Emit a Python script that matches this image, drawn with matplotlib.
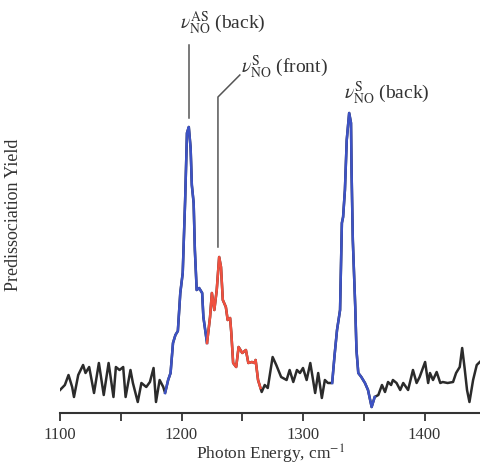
import matplotlib
matplotlib.use("Agg")
import matplotlib.pyplot as plt
import numpy as np

plt.rcParams["font.family"] = ["Liberation Serif", "DejaVu Serif"]
plt.rcParams["mathtext.fontset"] = "stix"

# 光子能量 (cm^-1) 與預解離產率 (任意單位)
energy = [1100, 1104, 1107, 1110, 1111.5, 1115, 1119, 1121, 1124, 1128, 1132, 1136,
          1140, 1144, 1146, 1149, 1152, 1154, 1158, 1160, 1164, 1167, 1171, 1174,
          1177, 1179, 1182, 1185, 1186.5, 1189, 1191, 1193, 1195, 1197, 1199, 1201,
          1203, 1204.5, 1206, 1207.5, 1208.5, 1210, 1211, 1212.5, 1214.5, 1217, 1218,
          1219.5, 1221, 1223.5, 1225, 1227, 1229, 1231, 1232.5, 1234, 1236.5, 1238,
          1240, 1241, 1242.5, 1245, 1247, 1250, 1253, 1255, 1258, 1260, 1261, 1263,
          1265, 1266, 1268.5, 1271, 1275, 1278, 1282, 1286.5, 1289, 1292, 1295,
          1297.5, 1300, 1303, 1306, 1310, 1312.5, 1315.5, 1318, 1320.5, 1324, 1326,
          1328, 1330.5, 1332, 1333, 1334.5, 1336, 1338, 1339.5, 1340, 1341, 1343,
          1344, 1345.5, 1348, 1351, 1353.5, 1356.5, 1359, 1362, 1365, 1367.5, 1370,
          1372.5, 1374, 1377, 1380, 1382.5, 1386.5, 1390.5, 1393.5, 1396, 1400.5,
          1403, 1404.5, 1407, 1410, 1413, 1415, 1419, 1423.5, 1426, 1429, 1431, 1433,
          1435, 1437, 1440, 1443, 1445.5]
yield_ = [23, 28, 38, 26, 16, 38, 48, 40, 46, 20, 50, 18,
          50, 16, 46, 43, 46, 16, 43, 30, 11, 30, 26, 31,
          45, 11, 33, 26, 20, 33, 40, 70, 78, 82, 120, 140,
          213, 280, 286, 265, 228, 210, 163, 123, 125, 120, 96,
          83, 70, 96, 120, 103, 123, 156, 146, 113, 106, 93,
          95, 80, 50, 46, 66, 60, 63, 50, 51, 50, 53, 33,
          25, 21, 28, 25, 56, 48, 36, 33, 43, 31, 43,
          40, 45, 33, 50, 20, 40, 15, 33, 30, 30, 58,
          83, 103, 190, 196, 223, 273, 300, 290, 240, 173, 106,
          63, 40, 36, 30, 23, 6, 16, 18, 28, 21, 31,
          28, 33, 30, 23, 30, 23, 43, 30, 36, 51,
          30, 40, 33, 41, 30, 31, 30, 31, 40, 46, 65, 45,
          23, 11, 33, 48, 51]

# 各段上色的能量區間
blue_ranges = [(1186.5, 1221), (1324, 1359)]
red_ranges = [(1221, 1265)]

energy = np.array(energy)
yield_ = np.array(yield_)

fig = plt.figure(figsize=(4.81, 4.66), dpi=100)
ax = fig.add_axes([60 / 481, 53 / 466, 421 / 481, 413 / 466])

LW = 1.8
ax.plot(energy, yield_, color="#2b2b2b", lw=LW, solid_joinstyle="round")
for lo, hi in blue_ranges:
    m = (energy >= lo) & (energy <= hi)
    ax.plot(energy[m], yield_[m], color="#3d52c4", lw=LW, solid_joinstyle="round")
for lo, hi in red_ranges:
    m = (energy >= lo) & (energy <= hi)
    ax.plot(energy[m], yield_[m], color="#f0503f", lw=LW, solid_joinstyle="round")

ax.set_xlim(1100, 1446.5)
ax.set_ylim(0, 413)
ax.set_xticks([1100, 1200, 1300, 1400])
ax.set_xticks([1150, 1250, 1350], minor=True)
ax.tick_params(axis="x", which="both", length=6, width=1.3, color="#333333",
               labelsize=12, labelcolor="#333333", pad=4)
ax.set_yticks([])
for s in ["left", "right", "top"]:
    ax.spines[s].set_visible(False)
ax.spines["bottom"].set_color("#333333")
ax.spines["bottom"].set_linewidth(1.5)

ax.set_xlabel("Photon Energy, cm$^{-1}$", fontsize=12.5, color="#333333")
ax.xaxis.set_label_coords(0.5, -0.072)
ax.set_ylabel("Predissociation Yield", fontsize=13, color="#333333")
ax.yaxis.set_label_coords(-0.09, 0.48)

# 標註
tc = "#333333"
ax.text(1234, 390, r"$\nu^{\rm AS}_{\rm NO}$ (back)", ha="center", va="center",
        fontsize=14, color=tc)
ax.plot([1206, 1206], [368, 295], color="#555555", lw=1.1)
ax.text(1284.8, 346, r"$\nu^{\rm S}_{\rm NO}$ (front)", ha="center", va="center",
        fontsize=14, color=tc)
ax.plot([1248, 1230, 1230], [338, 316, 166], color="#555555", lw=1.1)
ax.text(1368.7, 320, r"$\nu^{\rm S}_{\rm NO}$ (back)", ha="center", va="center",
        fontsize=14, color=tc)

fig.savefig("out.png", dpi=100)
